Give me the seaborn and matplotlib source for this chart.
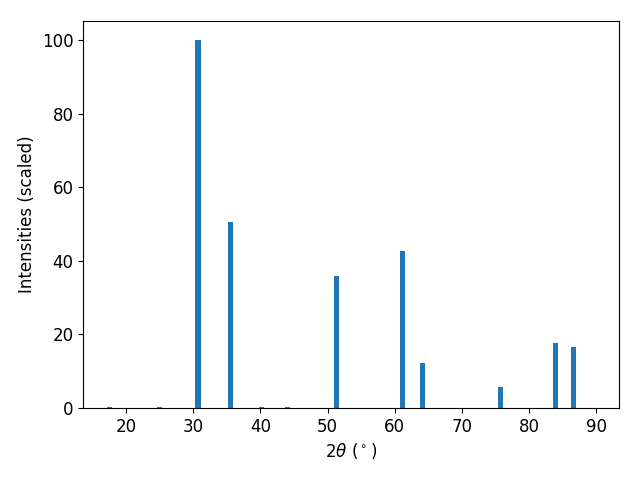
import numpy as np
import pandas as pd
import matplotlib
matplotlib.use('Agg')
import matplotlib.pyplot as plt
import seaborn as sns

plt.rcParams['font.size'] = 12

# peak positions (2theta) and scaled intensities
two_theta = [17.5, 25.0, 30.7, 35.6, 40.1, 44.1, 51.4, 61.2, 64.1, 75.7, 83.9, 86.6]
intensity = [0.3, 0.3, 100.0, 50.5, 0.3, 0.3, 36.0, 42.7, 12.3, 5.6, 17.8, 16.7]

df = pd.DataFrame({'two_theta': two_theta, 'intensity': intensity})

bar_w = 0.75
min_gap = np.min(np.diff(sorted(two_theta)))

fig, ax = plt.subplots(figsize=(6.4, 4.8))
sns.barplot(data=df, x='two_theta', y='intensity', native_scale=True,
            width=bar_w / min_gap, color='#1f77b4', saturation=1,
            linewidth=0, ax=ax)
ax.set_xlim(13.6, 93.4)
ax.set_ylim(0, 105.2)
ax.set_xticks([20, 30, 40, 50, 60, 70, 80, 90])
ax.set_xlabel(r'2$\theta$ ($^\circ$)')
ax.set_ylabel('Intensities (scaled)')

fig.subplots_adjust(left=0.13, right=0.967, top=0.956, bottom=0.15)
plt.savefig('out.png', dpi=100)
